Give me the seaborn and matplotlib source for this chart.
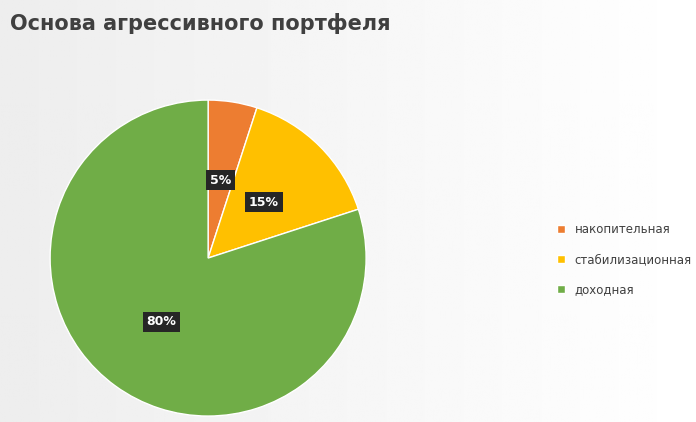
import matplotlib.pyplot as plt
import seaborn as sns
import numpy as np

categories = ["накопительная", "стабилизационная", "доходная"]
shares = [5, 15, 80]
colors = ["#ED7D31", "#FFC000", "#70AD47"]

sns.set_theme(style="white")
fig = plt.figure(figsize=(6.96, 4.22), dpi=100)

# light grey gradient background
bg = fig.add_axes([0, 0, 1, 1], zorder=-1)
grad = np.linspace(0.93, 1.0, 256).reshape(1, -1)
bg.imshow(np.repeat(grad, 2, axis=0), cmap="gray", vmin=0, vmax=1, aspect="auto", extent=[0, 1, 0, 1])
bg.axis("off")

ax = fig.add_axes([0.072, 0.014, 0.454, 0.749])
wedges, _, autotexts = ax.pie(
    shares, colors=colors, startangle=90, counterclock=False,
    autopct="%d%%", pctdistance=0.5, radius=1,
    wedgeprops=dict(linewidth=1, edgecolor="white"),
)
for t in autotexts:
    t.set_color("white")
    t.set_fontweight("bold")
    t.set_fontsize(9)
    t.set_bbox(dict(boxstyle="square,pad=0.3", facecolor="#262626", edgecolor="none"))
ax.set_xlim(-1, 1)
ax.set_ylim(-1, 1)
ax.set_aspect("equal")

fig.legend(wedges, categories, loc="center left", bbox_to_anchor=(0.785, 0.385),
           frameon=False, fontsize=8.5, handlelength=0.7, handleheight=0.7,
           labelspacing=1.45, labelcolor="#404040")

fig.text(0.014, 0.945, "Основа агрессивного портфеля", fontsize=15,
         fontweight="bold", color="#404040", va="center")

fig.savefig("out.png", dpi=100)
